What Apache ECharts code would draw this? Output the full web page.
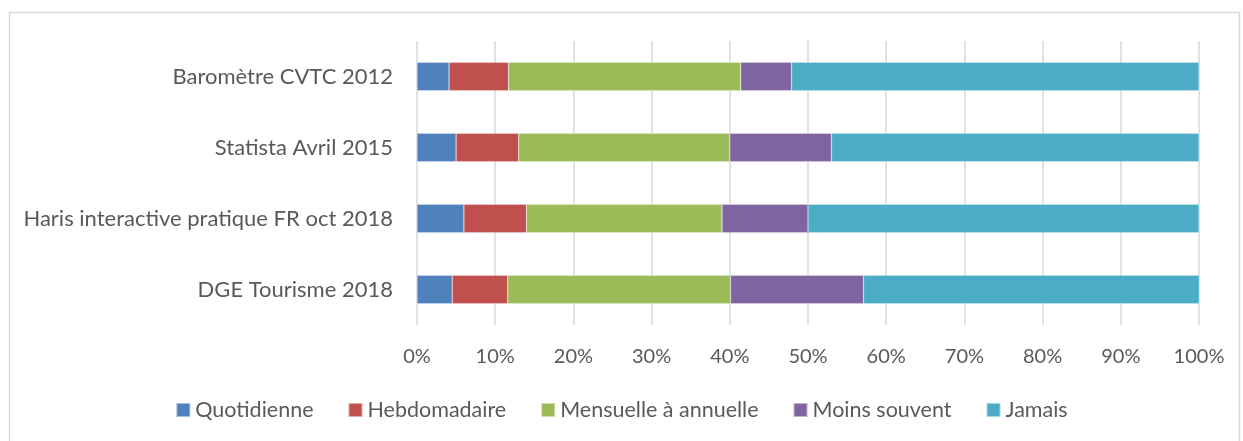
<!DOCTYPE html>
<html>
<head>
<meta charset="utf-8">
<script src="https://cdn.jsdelivr.net/npm/echarts@6/dist/echarts.min.js"></script>
<style>
html,body{margin:0;padding:0;background:#fff;}
#chart{width:1243px;height:441px;}
</style>
</head>
<body>
<div id="chart"></div>
<script>
const categories = ["Baromètre CVTC 2012", "Statista Avril 2015", "Haris interactive pratique FR oct 2018", "DGE Tourisme 2018"];
const seriesNames = ["Quotidienne", "Hebdomadaire", "Mensuelle à annuelle", "Moins souvent", "Jamais"];
const quotidienne = [4.1, 5, 6, 4.5];
const hebdomadaire = [7.6, 8, 8, 7.1];
const mensuelle = [29.7, 27, 25, 28.5];
const moinsSouvent = [6.5, 13, 11, 17];
const jamais = [52.1, 47, 50, 43];
const xTicks = [0, 10, 20, 30, 40, 50, 60, 70, 80, 90, 100];

const colors = ["#4F81BD", "#C0504D", "#9BBB59", "#8064A2", "#4BACC6"];
const values = [quotidienne, hebdomadaire, mensuelle, moinsSouvent, jamais];
const font = "Lato";
const txt = "#595959";

const chart = echarts.init(document.getElementById('chart'), null, {renderer: 'canvas'});
chart.setOption({
  animation: false,
  color: colors,
  graphic: [{
    type: 'rect', silent: true,
    shape: {x: 9.5, y: 12.5, width: 1230, height: 450},
    style: {fill: 'none', stroke: '#d9d9d9', lineWidth: 1.5}
  }],
  grid: {left: 417, right: 44, top: 41, bottom: 116, containLabel: false},
  legend: {
    bottom: 15, left: 'center',
    itemWidth: 14, itemHeight: 14, itemGap: 34,
    icon: 'rect',
    textStyle: {fontFamily: font, fontSize: 21.5, color: txt},
    data: seriesNames
  },
  xAxis: {
    type: 'value', min: 0, max: 100, interval: 10,
    axisLine: {show: false}, axisTick: {show: false},
    splitLine: {show: true, lineStyle: {color: '#d9d9d9', width: 1.5}},
    axisLabel: {formatter: v => v + '%', fontFamily: font, fontSize: 20, color: txt, margin: 22}
  },
  yAxis: {
    type: 'category', inverse: true, data: categories,
    axisLine: {show: false}, axisTick: {show: false},
    axisLabel: {fontFamily: font, fontSize: 22, color: txt, margin: 24}
  },
  series: seriesNames.map((n, i) => ({
    name: n, type: 'bar', stack: 'total', barCategoryGap: '60%',
    data: values[i],
    itemStyle: {borderColor: 'rgba(255,255,255,0.5)', borderWidth: 0.5}
  }))
});
</script>
</body>
</html>
